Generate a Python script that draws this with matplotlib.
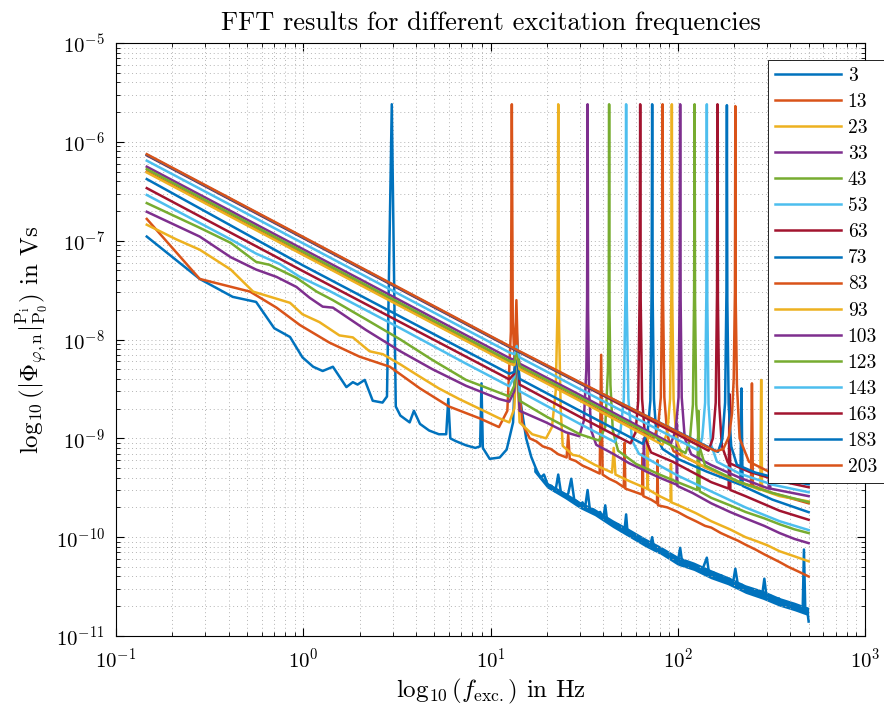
import matplotlib
matplotlib.use('Agg')
import matplotlib.pyplot as plt

# LaTeX-like look (MATLAB figure exported with latex interpreter)
plt.rcParams['font.family'] = 'serif'
plt.rcParams['font.serif'] = ['cmr10']
plt.rcParams['mathtext.fontset'] = 'cm'
plt.rcParams['axes.formatter.use_mathtext'] = True

# (frequency in Hz, amplitude in Vs), one list per excitation frequency
s3 = [(0.146, 1.1e-7), (0.28, 4.1e-8), (0.42, 2.7e-8), (0.56, 2.4e-8), (0.70, 1.3e-8), (0.85, 1.06e-8),
      (0.99, 6.6e-9), (1.13, 5.3e-9), (1.27, 4.8e-9), (1.44, 5.3e-9), (1.70, 3.3e-9), (1.84, 3.7e-9),
      (1.95, 3.5e-9), (2.13, 3.9e-9), (2.35, 2.4e-9), (2.65, 2.3e-9), (2.80, 2.65e-9), (2.97, 2.4e-6),
      (3.12, 2.1e-9), (3.3, 1.7e-9), (3.7, 1.45e-9), (3.9, 1.9e-9), (4.2, 1.4e-9), (4.7, 1.2e-9),
      (5.3, 1.1e-9), (5.8, 1.1e-9), (5.95, 2.5e-9), (6.1, 1.0e-9), (6.5, 9.4e-10), (7.4, 8.5e-10),
      (8.3, 8.0e-10), (8.8, 8.3e-10), (8.95, 3.6e-9), (9.1, 8.0e-10), (9.9, 6.2e-10), (11.2, 6.4e-10),
      (12.2, 7.7e-10), (13.2, 1.45e-9), (13.8, 1.2e-8), (14.4, 2.5e-9), (15.5, 1.0e-9), (16.5, 6.5e-10),
      (17.6, 4.8e-10), (18.5, 4.0e-10), (19.3, 4.3e-10), (20.2, 3.4e-10), (21.2, 3.3e-10), (22.2, 2.9e-10),
      (23.0, 4.3e-10), (23.8, 2.8e-10), (25.0, 2.6e-10), (26.0, 2.75e-10), (27.0, 3.9e-10), (28.0, 2.4e-10),
      (29.0, 2.3e-10), (30.0, 2.1e-10), (31.0, 2.25e-10), (32.0, 2.0e-10), (33.0, 3.0e-10), (34.0, 1.85e-10),
      (35.5, 1.9e-10), (37.0, 1.7e-10), (38.5, 1.8e-10), (40.0, 1.55e-10), (41.0, 2.1e-10), (42.0, 1.45e-10),
      (44.0, 1.4e-10), (46.0, 1.28e-10), (48.0, 1.35e-10), (50.0, 1.15e-10), (52.0, 1.2e-10), (53.0, 1.7e-10),
      (54.0, 1.08e-10), (57.0, 1.1e-10), (60.0, 9.6e-11), (63.0, 1.0e-10), (65.0, 8.8e-11), (68.0, 9.0e-11),
      (71.0, 8.0e-11), (73.0, 1.0e-10), (75.0, 7.4e-11), (79.0, 7.6e-11), (83.0, 6.8e-11), (87.0, 7.0e-11),
      (92.0, 6.2e-11), (97.0, 6.3e-11), (100.0, 5.6e-11), (103.0, 7.8e-11), (106.0, 5.3e-11), (111.0, 5.6e-11),
      (117.0, 4.9e-11), (123.0, 5.1e-11), (129.0, 4.6e-11), (136.0, 4.8e-11), (143.0, 6.2e-11), (147.0, 4.3e-11),
      (155.0, 4.4e-11), (163.0, 3.9e-11), (171.0, 4.1e-11), (180.0, 3.6e-11), (189.0, 3.8e-11), (197.0, 3.4e-11),
      (203.0, 4.8e-11), (210.0, 3.2e-11), (220.0, 3.3e-11), (230.0, 2.95e-11), (242.0, 3.05e-11), (255.0, 2.7e-11),
      (268.0, 2.85e-11), (282.0, 2.55e-11), (290.0, 3.8e-11), (298.0, 2.5e-11), (314.0, 2.55e-11), (330.0, 2.3e-11),
      (347.0, 2.4e-11), (365.0, 2.1e-11), (384.0, 2.2e-11), (404.0, 1.95e-11), (425.0, 2.05e-11), (447.0, 1.85e-11),
      (465.0, 1.95e-11), (472.0, 7.5e-11), (480.0, 1.8e-11), (490.0, 1.9e-11), (500.0, 1.4e-11)]

# noise envelope of the 3 Hz spectrum above the resonance (f, lower, upper)
band3 = [(17.0, 4.6e-10, 5.1e-10), (20.0, 3.15e-10, 3.6e-10), (25.0, 2.45e-10, 2.85e-10), (30.0, 1.95e-10, 2.3e-10),
         (36.0, 1.65e-10, 1.95e-10), (45.0, 1.25e-10, 1.5e-10), (55.0, 1.0e-10, 1.22e-10), (67.0, 8.0e-11, 9.8e-11),
         (82.0, 6.6e-11, 8.0e-11), (100.0, 5.2e-11, 6.4e-11), (122.0, 4.6e-11, 5.6e-11), (150.0, 3.8e-11, 4.7e-11),
         (185.0, 3.3e-11, 4.0e-11), (230.0, 2.7e-11, 3.3e-11), (285.0, 2.35e-11, 2.9e-11), (350.0, 2.0e-11, 2.45e-11),
         (420.0, 1.8e-11, 2.2e-11), (500.0, 1.6e-11, 1.95e-11)]

s13 = [(0.146, 1.66e-7), (0.28, 4.1e-8), (0.52, 3.05e-8), (0.72, 2.1e-8), (0.96, 1.4e-8), (1.38, 9.3e-9),
       (2.0, 6.7e-9), (2.9, 5.3e-9), (4.2, 3.2e-9), (6.0, 2.1e-9), (8.7, 1.6e-9), (11.1, 1.3e-9),
       (12.3, 1.9e-9), (12.85, 1.2e-8), (13.0, 2.4e-6), (13.15, 1.5e-8), (13.45, 6.0e-9), (13.75, 2.5e-8),
       (14.1, 4.0e-9), (14.8, 1.4e-9), (16.2, 1.0e-9), (17.6, 9.3e-10), (19.0, 8.3e-10), (21.0, 7.8e-10),
       (23.0, 6.9e-10), (25.5, 6.4e-10), (26.0, 1.1e-9), (26.5, 6.2e-10), (28.5, 5.9e-10), (31.0, 5.3e-10),
       (34.0, 4.9e-10), (38.3, 4.4e-10), (39.0, 7.0e-9), (39.7, 4.3e-10), (43.0, 3.9e-10), (47.0, 3.6e-10),
       (51.5, 3.2e-10), (52.0, 9.0e-10), (52.5, 3.1e-10), (58.0, 2.9e-10), (64.5, 2.7e-10), (65.0, 7.0e-10),
       (65.5, 2.6e-10), (72.0, 2.4e-10), (77.5, 2.2e-10), (78.0, 6.0e-10), (78.5, 2.1e-10), (88.0, 2.0e-10),
       (100.0, 1.8e-10), (112.0, 1.6e-10), (125.0, 1.45e-10), (140.0, 1.3e-10), (151.0, 1.25e-10),
       (170.0, 1.1e-10), (190.0, 1.0e-10), (210.0, 9.2e-11), (230.0, 8.4e-11), (260.0, 7.5e-11),
       (290.0, 6.7e-11), (320.0, 6.1e-11), (350.0, 5.6e-11), (390.0, 5.0e-11), (440.0, 4.5e-11), (500.0, 4.0e-11)]

s23 = [(0.146, 1.45e-7), (0.21, 1.03e-7), (0.28, 8.1e-8), (0.41, 5.1e-8), (0.54, 3.05e-8), (0.69, 2.65e-8),
       (0.85, 2.35e-8), (0.99, 1.8e-8), (1.22, 1.5e-8), (1.56, 1.1e-8), (1.84, 1.05e-8), (2.26, 7.6e-9),
       (2.66, 7.1e-9), (3.3, 5.6e-9), (4.2, 4.2e-9), (5.3, 3.2e-9), (6.8, 2.5e-9), (8.7, 2.0e-9),
       (11.1, 1.6e-9), (12.6, 1.45e-9), (13.4, 2.0e-9), (13.8, 7.0e-9), (14.3, 1.45e-9), (16.7, 1.1e-9),
       (19.8, 1.0e-9), (21.3, 1.3e-9), (22.3, 3.0e-9), (22.8, 2.0e-8), (23.0, 2.4e-6), (23.2, 1.5e-8),
       (23.7, 2.0e-9), (24.3, 8.4e-10), (27.5, 6.8e-10), (29.8, 6.6e-10), (36.0, 5.4e-10), (44.6, 4.5e-10),
       (45.5, 8.0e-10), (46.5, 4.3e-10), (55.0, 3.7e-10), (67.0, 3.15e-10), (68.7, 3.1e-10), (69.0, 1.2e-9),
       (69.3, 3.05e-10), (80.0, 2.6e-10), (91.5, 2.3e-10), (92.0, 5.5e-10), (92.5, 2.25e-10), (101.0, 2.1e-10),
       (125.0, 1.75e-10), (151.0, 1.45e-10), (190.0, 1.2e-10), (230.0, 1.0e-10), (260.0, 9.2e-11),
       (300.0, 8.3e-11), (350.0, 7.2e-11), (420.0, 6.4e-11), (500.0, 5.7e-11)]

s33 = [(0.146, 1.96e-7), (0.28, 1.1e-7), (0.41, 6.8e-8), (0.56, 5.1e-8), (0.72, 4.3e-8), (0.92, 3.4e-8),
       (1.08, 2.65e-8), (1.27, 2.15e-8), (1.44, 2.1e-8), (2.16, 1.25e-8), (3.3, 7.6e-9), (4.9, 5.0e-9),
       (7.4, 3.4e-9), (11.1, 2.5e-9), (12.6, 2.35e-9), (13.4, 3.0e-9), (13.8, 7.2e-9), (14.3, 1.9e-9),
       (19.8, 1.45e-9), (25.3, 1.15e-9), (29.8, 1.05e-9), (31.5, 1.5e-9), (32.5, 5.0e-9), (32.8, 2.5e-8),
       (33.0, 2.4e-6), (33.2, 2.0e-8), (33.6, 3.0e-9), (34.5, 1.2e-9), (36.7, 8.6e-10), (45.0, 7.0e-10),
       (55.0, 5.6e-10), (65.5, 4.8e-10), (66.0, 1.0e-9), (66.5, 4.7e-10), (80.0, 4.0e-10), (98.5, 3.4e-10),
       (99.0, 1.4e-9), (99.5, 3.3e-10), (120.0, 2.8e-10), (151.0, 2.2e-10), (190.0, 1.8e-10), (230.0, 1.55e-10),
       (290.0, 1.3e-10), (350.0, 1.1e-10), (420.0, 9.6e-11), (500.0, 8.7e-11)]

s43 = [(0.146, 2.4e-7), (0.28, 1.35e-7), (0.41, 9.5e-8), (0.56, 6.1e-8), (0.66, 5.7e-8), (0.92, 4.2e-8),
       (1.18, 3.05e-8), (1.44, 2.5e-8), (2.16, 1.6e-8), (3.3, 1.0e-8), (4.9, 6.2e-9), (7.4, 3.9e-9),
       (12.6, 2.65e-9), (13.4, 3.4e-9), (13.8, 7.4e-9), (14.3, 2.4e-9), (20.0, 1.65e-9), (30.0, 1.1e-9),
       (38.0, 9.5e-10), (41.0, 1.3e-9), (42.4, 5.0e-9), (42.8, 2.5e-8), (43.0, 2.4e-6), (43.2, 2.0e-8),
       (43.7, 3.5e-9), (45.0, 1.2e-9), (48.0, 7.5e-10), (60.0, 5.5e-10), (80.0, 4.3e-10), (100.0, 3.6e-10),
       (127.0, 3.0e-10), (129.0, 1.9e-9), (131.0, 2.9e-10), (151.0, 2.5e-10), (190.0, 2.1e-10),
       (230.0, 1.8e-10), (290.0, 1.55e-10), (350.0, 1.35e-10), (420.0, 1.2e-10), (500.0, 1.1e-10)]

s53 = [(0.146, 2.9e-7), (0.41, 1.03e-7), (0.56, 7.4e-8), (0.75, 5.8e-8), (0.96, 4.3e-8), (1.38, 3.1e-8),
       (3.3, 1.3e-8), (7.4, 5.7e-9), (12.6, 3.36e-9), (13.4, 4.2e-9), (13.8, 7.6e-9), (14.3, 3.0e-9),
       (30.0, 1.4e-9), (46.0, 9.2e-10), (49.5, 1.2e-9), (51.5, 2.5e-9), (52.6, 3.0e-8), (53.0, 2.4e-6),
       (53.4, 2.5e-8), (54.5, 2.5e-9), (57.0, 9.5e-10), (62.0, 7.0e-10), (80.0, 5.3e-10), (100.0, 4.2e-10),
       (151.0, 2.9e-10), (230.0, 2.0e-10), (350.0, 1.45e-10), (500.0, 1.18e-10)]

s63 = [(0.146, 3.4e-7), (1.0, 4.9e-8), (12.6, 3.95e-9), (13.4, 4.5e-9), (13.8, 7.8e-9), (14.3, 3.5e-9),
       (30.0, 1.65e-9), (56.0, 8.9e-10), (59.5, 1.15e-9), (61.5, 2.4e-9), (62.6, 3.0e-8), (63.0, 2.4e-6),
       (63.4, 2.5e-8), (64.5, 2.5e-9), (67.0, 1.0e-9), (72.0, 7.2e-10), (94.0, 5.8e-10), (151.0, 3.6e-10),
       (187.0, 3.1e-10), (189.0, 2.8e-9), (191.0, 3.0e-10), (230.0, 2.6e-10), (350.0, 1.85e-10), (500.0, 1.5e-10)]

s73 = [(0.146, 4.2e-7), (1.0, 5.6e-8), (12.6, 4.5e-9), (13.4, 4.7e-9), (13.8, 7.8e-9), (14.3, 4.0e-9),
       (30.0, 1.9e-9), (65.0, 8.8e-10), (69.0, 1.15e-9), (71.4, 2.4e-9), (72.5, 3.0e-8), (73.0, 2.4e-6),
       (73.5, 2.5e-8), (74.6, 2.5e-9), (77.0, 1.05e-9), (83.0, 7.8e-10), (100.0, 6.2e-10), (143.0, 4.6e-10),
       (216.0, 3.4e-10), (219.0, 3.2e-9), (222.0, 3.3e-10), (320.0, 2.4e-10), (500.0, 1.79e-10)]

s83 = [(0.146, 5.0e-7), (12.6, 5.8e-9), (13.4, 5.6e-9), (13.8, 8.0e-9), (14.3, 5.1e-9), (30.0, 2.45e-9),
       (74.0, 9.9e-10), (78.5, 1.3e-9), (81.2, 2.6e-9), (82.5, 3.0e-8), (83.0, 2.4e-6), (83.5, 2.5e-8),
       (84.8, 2.6e-9), (88.0, 1.05e-9), (95.0, 7.4e-10), (143.0, 5.0e-10), (214.0, 3.6e-10), (246.0, 3.3e-10),
       (249.0, 3.6e-9), (252.0, 3.3e-10), (320.0, 2.8e-10), (500.0, 2.2e-10)]

s93 = [(0.146, 4.9e-7), (12.6, 5.7e-9), (13.4, 5.5e-9), (13.8, 7.9e-9), (14.3, 5.0e-9), (30.0, 2.4e-9),
       (83.0, 8.6e-10), (88.0, 1.15e-9), (91.0, 2.5e-9), (92.5, 3.0e-8), (93.0, 2.4e-6), (93.5, 2.5e-8),
       (95.0, 2.5e-9), (98.5, 9.5e-10), (106.0, 6.7e-10), (143.0, 5.0e-10), (214.0, 3.6e-10), (276.0, 3.0e-10),
       (279.0, 3.9e-9), (282.0, 3.0e-10), (350.0, 2.6e-10), (500.0, 2.3e-10)]

s103 = [(0.146, 5.6e-7), (12.6, 6.5e-9), (13.4, 6.2e-9), (13.8, 8.2e-9), (14.3, 5.7e-9), (30.0, 2.75e-9),
        (92.0, 8.9e-10), (97.5, 1.2e-9), (101.0, 2.6e-9), (102.4, 3.0e-8), (103.0, 2.4e-6), (103.6, 2.5e-8),
        (105.0, 2.6e-9), (109.0, 1.0e-9), (118.0, 6.9e-10), (150.0, 5.4e-10), (214.0, 4.0e-10), (306.0, 3.1e-10),
        (309.0, 2.5e-9), (312.0, 3.1e-10), (500.0, 2.6e-10)]

s123 = [(0.146, 5.3e-7), (12.6, 6.1e-9), (13.4, 5.9e-9), (13.8, 8.0e-9), (14.3, 5.4e-9), (30.0, 2.6e-9),
        (110.0, 7.1e-10), (116.0, 9.5e-10), (120.5, 2.2e-9), (122.3, 3.0e-8), (123.0, 2.4e-6), (123.7, 2.5e-8),
        (125.5, 2.2e-9), (130.0, 8.5e-10), (140.0, 5.3e-10), (214.0, 3.6e-10), (320.0, 2.8e-10), (500.0, 2.26e-10)]

s143 = [(0.146, 6.45e-7), (12.6, 7.4e-9), (13.4, 7.1e-9), (13.8, 8.6e-9), (14.3, 6.6e-9), (30.0, 3.15e-9),
        (128.0, 7.6e-10), (135.0, 1.0e-9), (140.0, 2.3e-9), (142.2, 3.0e-8), (143.0, 2.4e-6), (143.8, 2.5e-8),
        (146.0, 2.2e-9), (151.0, 8.5e-10), (162.0, 5.8e-10), (214.0, 4.4e-10), (320.0, 3.4e-10), (500.0, 2.85e-10)]

s163 = [(0.146, 7.3e-7), (12.6, 8.4e-9), (30.0, 3.6e-9), (146.0, 7.5e-10), (154.0, 1.0e-9), (159.5, 2.3e-9),
        (162.1, 3.0e-8), (163.0, 2.4e-6), (163.9, 2.5e-8), (166.5, 2.2e-9), (172.0, 8.4e-10), (185.0, 5.7e-10),
        (240.0, 4.6e-10), (350.0, 3.7e-10), (500.0, 3.2e-10)]

s183 = [(0.146, 7.4e-7), (12.6, 8.5e-9), (30.0, 3.65e-9), (164.0, 7.3e-10), (173.0, 9.8e-10), (179.0, 2.3e-9),
        (182.0, 3.0e-8), (183.0, 2.35e-6), (184.0, 2.5e-8), (187.0, 2.2e-9), (193.0, 8.3e-10), (207.0, 5.4e-10),
        (260.0, 4.5e-10), (350.0, 3.9e-10), (500.0, 3.43e-10)]

s203 = [(0.146, 7.5e-7), (12.6, 8.6e-9), (30.0, 3.7e-9), (143.0, 8.2e-10), (160.0, 7.4e-10), (175.0, 7.8e-10),
        (188.0, 1.05e-9), (195.0, 1.8e-9), (199.0, 4.0e-9), (202.0, 3.0e-8), (203.0, 2.3e-6), (204.0, 2.5e-8),
        (207.0, 3.5e-9), (214.0, 1.0e-9), (240.0, 5.8e-10), (300.0, 4.7e-10), (400.0, 4.0e-10), (500.0, 3.6e-10)]

series = [s3, s13, s23, s33, s43, s53, s63, s73, s83, s93, s103, s123, s143, s163, s183, s203]
labels = ['3', '13', '23', '33', '43', '53', '63', '73', '83', '93', '103', '123', '143', '163', '183', '203']

# MATLAB default line colours
colors = ['#0072BD', '#D95319', '#EDB120', '#7E2F8E', '#77AC30', '#4DBEEE', '#A2142F']

fig = plt.figure(figsize=(8.84, 7.08), dpi=100)
ax = fig.add_axes([116/884, 72/708, 749/884, 593/708])

for i, s in enumerate(series):
    f, v = zip(*s)
    ax.plot(f, v, color=colors[i % 7], lw=1.8, label=labels[i])
    if i == 0:
        # noise band of the lowest spectrum
        bf, blo, bhi = zip(*band3)
        ax.fill_between(bf, blo, bhi, color=colors[0], lw=0)

ax.set_xscale('log')
ax.set_yscale('log')
ax.set_xlim(0.1, 1000)
ax.set_ylim(1e-11, 1e-5)
ax.set_xticks([0.1, 1, 10, 100, 1000])
ax.set_yticks([1e-11, 1e-10, 1e-9, 1e-8, 1e-7, 1e-6, 1e-5])

ax.grid(True, which='both', linestyle=(0, (1, 3)), color='#b4b4b4', lw=0.7)
ax.tick_params(which='both', direction='in', top=True, right=True, labelsize=15, pad=8)
ax.tick_params(which='major', length=6)
ax.tick_params(which='minor', length=3)
for sp in ax.spines.values():
    sp.set_linewidth(0.8)

ax.set_title('FFT results for different excitation frequencies', fontsize=19, pad=9)
ax.set_xlabel(r'$\log_{10}(f_{\mathrm{exc.}})$ in Hz', fontsize=18)
ax.set_ylabel(r'$\log_{10}(|\Phi_{\varphi,\mathrm{n}}|_{\mathrm{P}_0}^{\mathrm{P}_\mathrm{i}})$ in Vs', fontsize=18)

leg = ax.legend(loc='upper left', bbox_to_anchor=(768/884, 1 - 60/708), bbox_transform=fig.transFigure,
                fontsize=14, handlelength=3.4, labelspacing=0.42, borderpad=0.35, handletextpad=0.35,
                fancybox=False, edgecolor='k', framealpha=1, borderaxespad=0)
leg.get_frame().set_linewidth(0.6)
for ln in leg.get_lines():
    ln.set_linewidth(1.8)

plt.savefig('out.png', dpi=100)
